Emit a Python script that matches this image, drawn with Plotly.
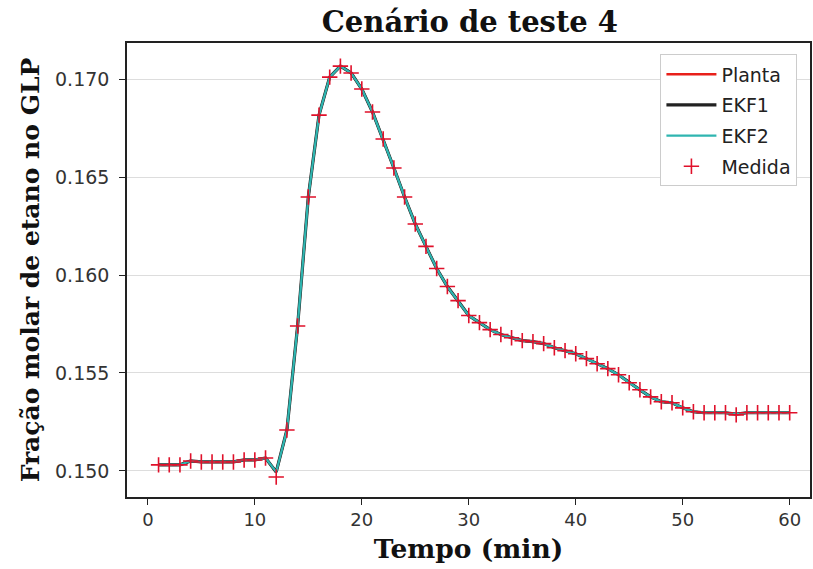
import plotly.graph_objects as go

tempo = list(range(1, 61))
medida = [
    0.15031, 0.15031, 0.15031, 0.15051, 0.15046, 0.15046, 0.15046, 0.15046, 0.15056, 0.15056,
    0.15066, 0.14969, 0.15209, 0.15740, 0.16398, 0.16816, 0.17010, 0.17066, 0.17031, 0.16949,
    0.16832, 0.16694, 0.16546, 0.16398, 0.16260, 0.16146, 0.16033, 0.15941, 0.15869, 0.15793,
    0.15757, 0.15721, 0.15696, 0.15680, 0.15665, 0.15660, 0.15650, 0.15629, 0.15614, 0.15598,
    0.15573, 0.15547, 0.15522, 0.15491, 0.15450, 0.15414, 0.15378, 0.15353, 0.15348, 0.15322,
    0.15302, 0.15297, 0.15297, 0.15297, 0.15286, 0.15297, 0.15297, 0.15297, 0.15297, 0.15297,
]
planta = [
    0.15031, 0.15031, 0.15031, 0.15051, 0.15046, 0.15046, 0.15046, 0.15046, 0.15056, 0.15056,
    0.15066, 0.14995, 0.15209, 0.15740, 0.16398, 0.16816, 0.17010, 0.17066, 0.17031, 0.16949,
    0.16832, 0.16694, 0.16546, 0.16398, 0.16260, 0.16146, 0.16033, 0.15941, 0.15869, 0.15793,
    0.15757, 0.15721, 0.15696, 0.15680, 0.15665, 0.15660, 0.15650, 0.15629, 0.15614, 0.15598,
    0.15573, 0.15547, 0.15522, 0.15491, 0.15450, 0.15414, 0.15378, 0.15353, 0.15348, 0.15322,
    0.15302, 0.15297, 0.15297, 0.15297, 0.15290, 0.15297, 0.15297, 0.15297, 0.15297, 0.15297,
]
ekf1 = list(planta)
ekf2 = list(planta)

x_ticks = [0, 10, 20, 30, 40, 50, 60]
y_ticks = [0.150, 0.155, 0.160, 0.165, 0.170]

fig = go.Figure()
fig.add_trace(go.Scatter(x=tempo, y=planta, mode="lines", name="Planta", legendgroup="a",
                         line=dict(color="#e8201a", width=2.4)))
fig.add_trace(go.Scatter(x=tempo, y=ekf1, mode="lines", name="EKF1", legendgroup="b",
                         line=dict(color="#222222", width=3.2)))
fig.add_trace(go.Scatter(x=tempo, y=ekf2, mode="lines", name="EKF2", legendgroup="c",
                         line=dict(color="#2fb5b0", width=2.3)))
fig.add_trace(go.Scatter(x=tempo, y=medida, mode="markers", name="Medida", legendgroup="d",
                         marker=dict(symbol="cross-thin", size=11, color="#e0102a",
                                     line=dict(color="#e0102a", width=1.6))))

serif = "DejaVu Serif"
sans = "DejaVu Sans"

fig.update_layout(
    width=813, height=569,
    margin=dict(l=127, r=1, t=43, b=72),
    paper_bgcolor="white", plot_bgcolor="white",
    title=dict(text="Cenário de teste 4", x=0.578, xanchor="center", y=0.961, yanchor="middle",
               font=dict(family=serif, size=29, color="#111111", weight="bold")),
    showlegend=True,
    legend=dict(x=0.781, y=0.975, xanchor="left", yanchor="top",
                bgcolor="white", bordercolor="#cccccc", borderwidth=1,
                itemwidth=50, tracegroupgap=3,
                font=dict(family=sans, size=19, color="#222222")),
    xaxis=dict(range=[-1.95, 61.9], tickvals=x_ticks, ticktext=[str(v) for v in x_ticks],
               showgrid=False, zeroline=False, showline=True, linecolor="#222222", linewidth=1.5,
               mirror=True, ticks="outside", ticklen=6, tickcolor="#222222",
               tickfont=dict(family=sans, size=18, color="#333333"),
               title=dict(text="Tempo (min)", standoff=10,
                          font=dict(family=serif, size=26.5, color="#111111", weight="bold"))),
    yaxis=dict(range=[0.14867, 0.17184], tickvals=y_ticks, ticktext=[f"{v:.3f}" for v in y_ticks],
               showgrid=True, gridcolor="#dddddd", gridwidth=1, zeroline=False,
               showline=True, linecolor="#222222", linewidth=1.5, mirror=True,
               ticks="outside", ticklen=6, tickcolor="#222222", ticklabelstandoff=6,
               tickfont=dict(family=sans, size=19, color="#333333"),
               title=dict(text="Fração molar de etano no GLP", standoff=8,
                          font=dict(family=serif, size=25, color="#111111", weight="bold"))),
)

# remove the default 8px page margin so the figure fills the 813x569 window
fig.write_html("out.html", config={"displayModeBar": False},
               post_script="document.body.style.margin='0';")
